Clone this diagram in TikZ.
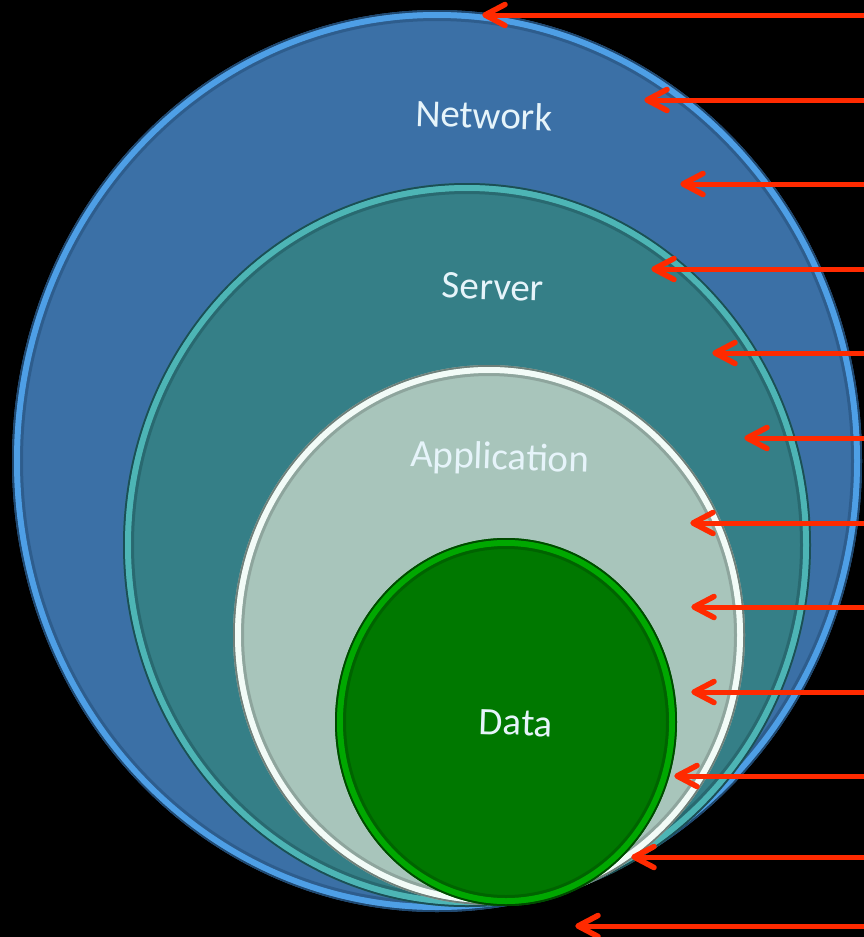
\documentclass[tikz,border=0pt]{standalone}
\usepackage{fontspec}
\setmainfont{Carlito}
\definecolor{netfill}{HTML}{3B70A6}
\definecolor{netring}{HTML}{4E9FE6}
\definecolor{netdark}{HTML}{1F4870}
\definecolor{srvfill}{HTML}{357F87}
\definecolor{srvring}{HTML}{4DB5B5}
\definecolor{srvdark}{HTML}{1B4F55}
\definecolor{appfill}{HTML}{A8C5BB}
\definecolor{appring}{HTML}{F2FBF7}
\definecolor{appdark}{HTML}{6F807A}
\definecolor{datfill}{HTML}{007800}
\definecolor{datring}{HTML}{00A800}
\definecolor{datdark}{HTML}{004A00}
\definecolor{arrred}{HTML}{FF2A00}
\definecolor{labtxt}{HTML}{E6F4FA}
\tikzset{
  lbl/.style={text=labtxt, font=\fontsize{39}{46}\selectfont, inner sep=0pt, rotate=-2},
  redline/.style={draw=arrred, line width=5pt},
  chevron/.style={draw=arrred, line width=5.5pt, line cap=round, line join=round}
}
\newcommand{\layer}[7]{%
  % #1 cx, #2 cy, #3 rx, #4 ry, #5 fill, #6 ring, #7 dark
  \fill[#5] (#1,#2) ellipse [x radius=#3pt, y radius=#4pt];
  \draw[#7, line width=2pt] (#1,#2) ellipse [x radius=#3pt-1pt, y radius=#4pt-1pt];
  \draw[#6, line width=6pt] (#1,#2) ellipse [x radius=#3pt-5pt, y radius=#4pt-5pt];
  \draw[#7, line width=3pt, opacity=0.45] (#1,#2) ellipse [x radius=#3pt-9.5pt, y radius=#4pt-9.5pt];
}
\begin{document}
\begin{tikzpicture}[x=1pt, y=-1pt]
\fill[black] (0,0) rectangle (864,937);
\useasboundingbox (0,0) rectangle (864,937);

\layer{437}{461}{425}{451}{netfill}{netring}{netdark}
\layer{467}{545}{344}{362}{srvfill}{srvring}{srvdark}
\layer{489}{635}{256}{270}{appfill}{appring}{appdark}
\layer{506}{722}{171}{184}{datfill}{datring}{datdark}

\node[lbl] (net) at (484,115) {Network};
\node[lbl] (srv) at (493,287) {Server};
\node[lbl] (app) at (500,459) {Application};
\node[lbl] (dat) at (516,723) {Data};

\foreach \i/\y/\tx in {1/15/485, 2/100/647, 3/184/683, 4/269/654, 5/353/715, 6/438/747,
                       7/523/693, 8/607/694, 9/692/694, 10/776/677, 11/857/634, 12/926/578} {
  \coordinate (s\i) at (866,\y);
  \coordinate (t\i) at (\tx,\y);
  \draw[redline] (s\i) -- ([xshift=2pt]t\i);
  \draw[chevron] ([xshift=20pt,yshift=10.5pt]t\i) -- (t\i) -- ([xshift=20pt,yshift=-10.5pt]t\i);
}
\end{tikzpicture}
\end{document}
